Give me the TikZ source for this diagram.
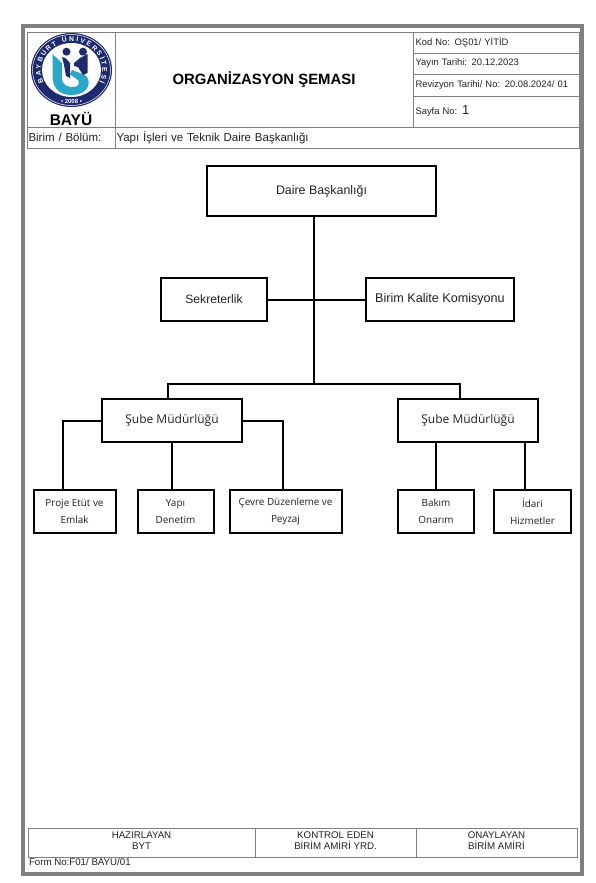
\documentclass[tikz,border=0pt]{standalone}
\usepackage{fontspec}
\setmainfont{Liberation Sans}
\newfontfamily\boxfont{Open Sans}
\usepackage{xcolor}
\usetikzlibrary{positioning,decorations.text}

\definecolor{framegray}{HTML}{808080}
\definecolor{logonavy}{HTML}{1E2A6E}
\definecolor{logoteal}{HTML}{2BA6C8}
\definecolor{inktext}{HTML}{222222}

\newcommand{\pxfont}[1]{\fontsize{#1}{#1}\selectfont}

\begin{document}
\begin{tikzpicture}[
    x=1pt, y=-1pt,
    every node/.style={text=inktext, outer sep=0pt},
    cell/.style={rectangle, draw=framegray, line width=0.9pt, inner sep=0pt},
    infocell/.style={cell, minimum width=166pt, text width=161pt, align=left, font=\pxfont{9.4}},
    signcell/.style={cell, minimum height=29pt, align=center, text depth=3pt, font=\fontsize{9.7}{11}\selectfont},
    orgbox/.style={rectangle, draw=black, line width=2pt, inner sep=0pt, align=center},
    midbox/.style={orgbox, minimum width=106pt, minimum height=43pt, font=\pxfont{12.1}},
    subebox/.style={orgbox, minimum width=140pt, minimum height=43pt, font=\boxfont\pxfont{12}},
    leafbox/.style={orgbox, minimum height=43pt, font=\boxfont\fontsize{9.9}{17}\selectfont},
    link/.style={draw=black, line width=2pt}
]
    \useasboundingbox (0,0) rectangle (595,883);
    \fill[white] (0,0) rectangle (595,883);
    \draw[framegray, line width=4.5pt] (23,26) rectangle (582,874);

    % header table
    \node[cell, minimum width=88pt, minimum height=95pt] (logocell) at (71,79.5) {};
    \node[cell, minimum width=298pt, minimum height=95pt, font=\bfseries\pxfont{14.9}, text=black] (titlecell) at (264,79.5) {ORGANİZASYON ŞEMASI};
    \node[infocell, minimum height=21pt] (kod) at (496,42.5) {Kod No: OŞ01/ YİTİD};
    \node[infocell, minimum height=21pt, below=0pt of kod] (yayin) {Yayın Tarihi: 20.12.2023};
    \node[infocell, minimum height=22pt, below=0pt of yayin] (revizyon) {Revizyon Tarihi/ No: 20.08.2024/ 01};
    \node[infocell, minimum height=31pt, below=0pt of revizyon] (sayfa) {Sayfa No: {\pxfont{13}1}};
    \node[cell, minimum width=88pt, minimum height=21pt, text width=85pt, align=left, font=\pxfont{11.5}, below=0pt of logocell] (birimlabel) {Birim / Bölüm:};
    \node[cell, minimum width=464pt, minimum height=21pt, text width=461pt, align=left, font=\pxfont{11.5}, right=0pt of birimlabel] (birimname) {Yapı İşleri ve Teknik Daire Başkanlığı};

    % logo
    \fill[logonavy] (71.5,70) ellipse [x radius=40.5, y radius=37];
    \draw[white, line width=0.5pt] (71.5,70) ellipse [x radius=39, y radius=35.5];
    \fill[white] (71.5,70) ellipse [x radius=29.5, y radius=27];
    \path[decorate, decoration={text along path, text align=fit to path, raise=-2.2pt,
        text={|\bfseries\pxfont{6.8}\color{white}|BAYBURT ÜNİVERSİTESİ}}]
        (71.5,70) ++(155:33 and 30.5) arc [start angle=155, end angle=385, x radius=33, y radius=30.5];
    \node[text=white, font=\bfseries\pxfont{6}, inner sep=0pt] (logoyear) at (71.5,101) {• 2008 •};
    \fill[logonavy] (66.5,51.7) circle (4) (83,51.7) circle (4);
    \fill[logoteal] (52.5,54) -- (62,63) -- (62,78) .. controls (62,86) and (68,87) .. (74,87)
        .. controls (80,87) and (81,80) .. (75,78) -- (70,74.5) -- (72,70) -- (85,75)
        .. controls (92,80) and (90,95) .. (71,95) .. controls (58,95) and (52,86) .. (52.5,75) -- cycle;
    \fill[logonavy] (62,57) -- (66,58.5) -- (70,63) -- (70,78) -- (66,76) -- (64,65) -- cycle;
    \fill[logonavy] (74,63) -- (80,58) -- (87.5,54) -- (87.5,73) -- (83,75) -- (78,67) -- (74,66) -- cycle;
    \node[text=black, font=\bfseries\pxfont{15.5}, inner sep=0pt] (bayu) at (71,119) {BAYÜ};

    % chart
    \node[orgbox, minimum width=229pt, minimum height=50pt, font=\pxfont{12.4}] (daire) at (321.5,191) {Daire Başkanlığı};
    \node[midbox, below left=62pt and 54.5pt of daire.south] (sekreter) {Sekreterlik};
    \node[midbox, minimum width=148pt, font=\pxfont{12.6}, below right=62pt and 44.5pt of daire.south] (kalite) {Birim Kalite Komisyonu};
    \node[subebox, below left=183pt and 79.5pt of daire.south] (subeleft) {Şube Müdürlüğü};
    \node[subebox, below right=183pt and 76.5pt of daire.south] (suberight) {Şube Müdürlüğü};
    \node[leafbox, minimum width=82pt, below left=48pt and 56.5pt of subeleft.south] (proje) {Proje Etüt ve\\Emlak};
    \node[leafbox, minimum width=76pt, right=22pt of proje] (denetim) {Yapı\\Denetim};
    \node[leafbox, minimum width=112pt, right=16pt of denetim] (cevre) {Çevre Düzenleme ve\\Peyzaj};
    \node[leafbox, minimum width=76pt, below right=48pt and 0pt of suberight.south west] (bakim) {Bakım\\Onarım};
    \node[leafbox, minimum width=77pt, right=20pt of bakim] (idari) {İdari\\Hizmetler};

    \coordinate (hub) at (314,384);
    \coordinate (busleft) at (168,384);
    \coordinate (busright) at (460,384);
    \coordinate (projetop) at (63,490);
    \coordinate (cevretop) at (283,490);
    \coordinate (idaritop) at (525,490);

    \draw[link] (daire.south -| hub) -- (hub);
    \draw[link] (sekreter) -- (kalite);
    \draw[link] (subeleft.north -| busleft) |- (busright) -- (suberight.north -| busright);
    \draw[link] (subeleft.west) -| (projetop);
    \draw[link] (subeleft.east) -| (cevretop);
    \draw[link] (subeleft.south) -- (subeleft.south |- denetim.north);
    \draw[link] (suberight.south -| bakim.north) -- (bakim.north);
    \draw[link] (suberight.south -| idaritop) -- (idaritop);

    % footer table
    \node[signcell, minimum width=227pt] (hazir) at (141.5,842.5) {HAZIRLAYAN\\BYT};
    \node[signcell, minimum width=161pt, right=0pt of hazir] (kontrol) {KONTROL EDEN\\BİRİM AMİRİ YRD.};
    \node[signcell, minimum width=161pt, right=0pt of kontrol] (onay) {ONAYLAYAN\\BİRİM AMİRİ};
    \node[font=\pxfont{9.7}, anchor=west, inner sep=0pt] (formno) at (29,862.5) {Form No:F01/ BAYU/01};
\end{tikzpicture}
\end{document}
